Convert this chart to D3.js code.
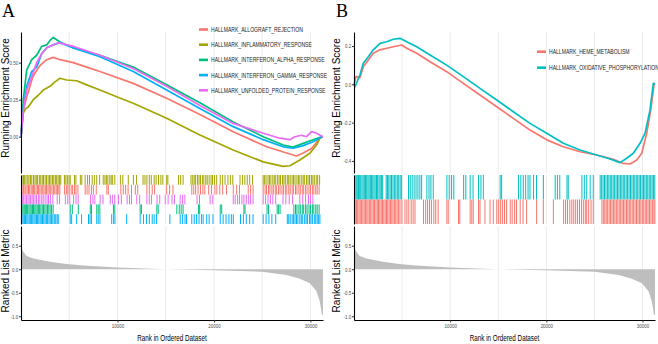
<!DOCTYPE html>
<html>
<head>
<meta charset="utf-8">
<script src="https://cdn.jsdelivr.net/npm/d3@7"></script>
<style>
  body { margin: 0; background: #fff; }
  svg { display: block; }
</style>
</head>
<body>
<svg id="chart"></svg>
<script>
const w = 658;
const h = 344;
const nGenes = 31300;

const gridRanks = [5000, 10000, 15000, 20000, 25000, 30000];
const rankTicks = [10000, 20000, 30000];

// ---- panel A ----
const setsA = ['HALLMARK_ALLOGRAFT_REJECTION', 'HALLMARK_INFLAMMATORY_RESPONSE',
  'HALLMARK_INTERFERON_ALPHA_RESPONSE', 'HALLMARK_INTERFERON_GAMMA_RESPONSE',
  'HALLMARK_UNFOLDED_PROTEIN_RESPONSE'];
const colorsA = ['#F8766D', '#A3A500', '#00BF7D', '#00B0F6', '#E76BF3'];
const rowOrderA = [1, 0, 4, 2, 3]; // top to bottom in the hit strip
const esTicksA = [0, 0.25, 0.5];

const esAllograft = [[0,0],[238,0.18],[600,0.27],[932,0.34],[1200,0.40],[1450,0.43],[1968,0.48],[2300,0.50],[2663,0.52],[3346,0.536],[4040,0.52],[5418,0.50],[6807,0.47],[8184,0.44],[11634,0.36],[15095,0.26],[18544,0.15],[21994,0.034],[25455,-0.068],[27528,-0.11],[28562,-0.13],[29246,-0.11],[30117,-0.08],[30976,-0.01],[31300,0]];
const esInflammatory = [[0,0],[238,0.16],[500,0.19],[756,0.20],[1274,0.25],[1792,0.28],[2310,0.315],[3004,0.34],[3522,0.37],[4040,0.395],[4735,0.383],[5771,0.378],[6807,0.35],[8184,0.315],[9914,0.27],[11634,0.226],[15095,0.124],[18544,0.011],[21994,-0.09],[25102,-0.17],[27174,-0.20],[27868,-0.196],[28904,-0.157],[29940,-0.112],[30633,-0.056],[30976,-0.01],[31300,0]];
const esIfnAlpha = [[0,0],[238,0.25],[590,0.45],[1108,0.52],[1627,0.55],[2145,0.61],[2663,0.62],[3004,0.65],[3346,0.67],[4040,0.64],[5418,0.60],[8184,0.55],[11634,0.47],[15095,0.35],[18544,0.23],[21994,0.10],[25102,0.0],[27174,-0.056],[28210,-0.07],[29246,-0.045],[30282,-0.02],[31153,0],[31300,0]];
const esIfnGamma = [[0,0],[238,0.20],[590,0.34],[1108,0.44],[1627,0.47],[2145,0.56],[2663,0.60],[3346,0.62],[4040,0.635],[5418,0.60],[8184,0.54],[11634,0.44],[15095,0.315],[18544,0.19],[21994,0.068],[25102,-0.02],[27174,-0.068],[28210,-0.078],[29246,-0.06],[30282,-0.034],[31153,0],[31300,0]];
const esUpr = [[0,0],[238,0.18],[590,0.315],[1108,0.405],[1627,0.50],[2145,0.56],[2663,0.60],[3346,0.62],[3864,0.635],[5418,0.61],[8184,0.55],[11634,0.46],[15095,0.34],[18544,0.21],[21994,0.09],[25102,0.023],[26832,-0.01],[27868,-0.02],[28386,0.0],[29081,0.01],[29595,0.0],[30117,0.034],[30633,0.023],[31257,0.0],[31300,0]];

const hitsAllograft = [120,250,400,510,640,780,900,1050,1170,1300,1420,1560,1700,1820,1960,2100,2250,2380,2520,2650,2800,2930,3080,3210,3360,3500,3650,3780,3920,4030,
  4520,4700,4850,5000,5200,5350,5550,5700,5900,6650,6850,7050,7300,7500,7800,8900,9050,
  10350,10600,10850,11100,11450,11850,12100,13050,13300,13600,13850,15100,15400,15750,
  17700,17900,18100,18350,18600,18850,19050,19450,19750,20100,20300,20600,20900,21300,22000,22350,22650,23550,23800,24050,
  25100,25300,25450,25650,25800,26000,26150,26350,26500,26700,26850,27050,27200,27400,27550,27750,27900,28100,28250,28450,28600,28800,28950,29150,29300,29500,29650,29850,30000,30200,30350,30550,30700,30900];
const hitsInflammatory = [110,260,380,520,700,830,990,1120,1300,1450,1580,1720,1900,2050,2200,2330,2500,2640,2810,2950,3100,3260,3400,3560,3700,3850,4000,4120,
  4500,4650,4800,4980,5100,5550,5690,6150,6300,6650,6900,7100,7380,7600,7850,8150,
  8520,8700,8850,9000,9200,9350,9500,9720,10300,10550,11120,11650,11980,
  12650,12850,13050,13300,13500,13800,14000,14250,14500,14700,15100,15220,16320,16550,16800,
  17620,17800,17950,18100,18300,18450,18600,18800,18950,19150,19300,19500,19700,19850,20050,20280,
  20650,20900,21150,21450,21700,21950,22700,22950,23200,23450,23700,24000,
  25100,25250,25400,25600,25750,25900,26100,26250,26400,26600,26750,26900,27100,27250,27400,27600,27750,27900,28100,28250,28400,28600,28750,28900,29100,29250,29400,29600,29750,29900,30100,30250,30400,30600,30750,30950];
const hitsIfnAlpha = [110,220,340,450,580,690,820,940,1060,1190,1300,1430,1550,1680,1800,1930,2060,2200,2330,2470,2600,2750,2880,3020,3170,3330,
  5100,5320,5940,7180,7300,7850,8000,8170,9580,9720,12350,12480,14080,14220,16150,16400,16600,16800,18400,18520,
  20650,20800,23100,23220,25500,25650,26550,26700,26850,
  28280,28450,28600,28800,28950,29150,29300,29500,29650,29850,30000,30200,30350,30550,30700,30900];
const hitsIfnGamma = [105,230,350,470,600,720,850,970,1100,1220,1350,1470,1600,1720,1850,1980,2100,2230,2360,2500,2630,2760,2900,3030,3170,3300,3450,3600,3750,3860,
  5100,5250,5770,6280,7000,7150,7300,7850,8000,8180,9400,9600,9740,10950,
  12350,12700,13000,13300,13600,13800,14050,15430,16500,16750,17000,17150,17700,17950,18200,18450,18700,18880,19250,19500,19900,
  20650,20950,21250,21550,21800,22000,22750,23050,23350,23700,24050,25100,25400,25700,26000,26400,
  27600,27750,27900,28100,28250,28400,28550,28700,28900,29050,29200,29400,29550,29700,29900,30050,30200,30400,30550,30700,30850,30980];
const hitsUpr = [130,280,420,560,720,850,1000,1150,1280,1450,1600,1800,1950,2150,2300,2500,2700,2850,3050,3300,
  3750,4000,4600,4850,5050,5450,5700,5920,7200,7450,7650,8200,8500,9250,9500,9720,10100,10400,11000,11250,11450,
  12000,12300,13050,13300,13520,14100,14380,14950,15250,15650,15900,16500,16750,16980,18250,18500,19600,19880,
  22000,22200,22450,22650,22900,23100,23350,23600,23800,24050,25100,25350,25600,25850,26100,26400,
  27150,27450,27800,28150,28900,29200,29500,29800,30000,30250];

// ---- panel B ----
const setsB = ['HALLMARK_HEME_METABOLISM', 'HALLMARK_OXIDATIVE_PHOSPHORYLATION'];
const colorsB = ['#F8766D', '#00BFC4'];
const rowOrderB = [1, 0];
const esTicksB = [-0.4, -0.2, 0, 0.2];

const esHeme = [[0,0],[208,0.04],[624,0.035],[967,0.092],[1487,0.127],[2007,0.162],[2704,0.18],[3401,0.188],[4087,0.196],[4961,0.205],[5481,0.188],[6521,0.162],[7904,0.118],[9641,0.066],[11367,0.005],[13104,-0.056],[14841,-0.117],[16567,-0.178],[18304,-0.239],[20041,-0.29],[21767,-0.326],[23504,-0.352],[25241,-0.369],[26967,-0.392],[28007,-0.413],[28704,-0.416],[29397,-0.395],[29921,-0.36],[30437,-0.256],[30857,-0.134],[31200,0],[31300,0]];
const esOxphos = [[0,0],[104,-0.012],[624,0.05],[967,0.11],[1487,0.144],[2007,0.18],[2704,0.214],[3401,0.222],[4087,0.235],[4784,0.24],[5481,0.222],[6521,0.196],[7904,0.153],[9641,0.10],[11367,0.04],[13104,-0.021],[14841,-0.082],[16567,-0.143],[18304,-0.204],[20041,-0.256],[21767,-0.308],[23504,-0.343],[25241,-0.369],[26624,-0.39],[27664,-0.409],[28357,-0.386],[29047,-0.36],[29744,-0.308],[30264,-0.256],[30784,-0.134],[31127,0.005],[31300,0]];

const hitsHeme = [120,250,380,520,650,790,920,1060,1190,1330,1460,1600,1740,1870,2010,2140,2280,2420,2550,2690,2830,2960,3100,3240,3380,3510,3650,3790,3930,4060,4200,4340,4480,4620,4780,
  4980,5300,5500,5700,5950,6150,6340,7230,7450,7650,7850,8050,8300,8500,8750,9660,9800,10870,11000,
  12080,12250,12400,12950,13100,13620,14150,14480,14850,15050,15250,15450,15650,15870,16250,16450,16700,16900,17280,17580,17950,
  18990,19690,20730,21800,22000,22200,22440,22650,22850,23050,23250,23450,23650,23850,24050,24200,24400,24650,24880,
  25780,25930,26080,26230,26380,26530,26680,26830,26980,27130,27280,27430,27580,27730,27880,28030,28180,28330,28480,28630,28780,28930,29080,29230,29380,29530,29680,29830,29980,30130,30280,30430,30580,30730,30880,31030,31180,31290];
const hitsOxphos = [110,230,340,470,590,700,830,950,1070,1200,1320,1450,1570,1700,1830,1950,2080,2200,2340,2460,2600,2720,2850,2980,
  3350,3480,3620,3760,3900,4050,4200,4350,4500,4650,4800,4950,5670,5850,6050,6250,6450,6650,6850,7030,7580,7800,8000,8240,
  9660,9900,10150,10380,11400,11630,12080,12380,12950,13200,13450,15200,15350,17100,17350,17600,17850,18100,18300,18670,18980,19690,
  20920,21150,21400,22150,22280,23700,23950,24200,24560,24880,
  25600,25750,25900,26050,26200,26350,26500,26650,26800,26950,27100,27250,27400,27550,27700,27850,28000,28150,28300,28450,28600,28750,28900,29050,29200,29350,29500,29650,29800,29950,30100,30250,30400,30550,30700,30850,31000,31150,31280];

// ranked list metric (same ranked list for both panels)
const metricRanks = [1, 100, 240, 590, 1280, 3000, 4730, 6460, 9980, 14990, 19960, 25000, 27520, 28900, 29940, 30630, 30980, 31190, 31300];
const metricValues = [0.50, 0.42, 0.37, 0.28, 0.23, 0.16, 0.11, 0.08, 0.035, 0.0, -0.02, -0.055, -0.12, -0.2, -0.3, -0.47, -0.69, -0.97, -0.97];
const metricTicks = [-1, -0.5, 0, 0.5];

const sans = '"Liberation Sans", Arial, sans-serif';

const svg = d3.select('#chart')
  .attr('width', w)
  .attr('height', h);

// the original's horizontal text is condensed: squeeze around each text's own x
function squeeze(sel, sx) {
  sel.attr('transform', function () {
    const x = +this.getAttribute('x') || 0;
    return `translate(${x * (1 - sx)},0) scale(${sx},1)`;
  });
}

function styleAxis(g) {
  g.attr('font-family', sans).attr('font-size', 6.2);
  g.select('.domain').attr('stroke', '#000').attr('stroke-width', 1.1);
  g.selectAll('.tick line').attr('stroke', '#333');
  g.selectAll('.tick text').attr('fill', '#4d4d4d').call(squeeze, 0.72);
}

function drawPanel(p) {
  const g = svg.append('g');

  const x = d3.scaleLinear().domain([0, nGenes]).range([p.left, p.right]);
  const yEs = d3.scaleLinear().domain(p.esDomain).range([173, 32]);
  const yRow = d3.scaleBand().domain(p.rowOrder).range([175, 224]);
  const yMetric = d3.scaleLinear().domain([-1.08, 0.92]).range([320, 226]);

  // vertical grid lines in each of the three strips
  [[32, 173], [175, 224], [226, 320]].forEach(([a, b]) => {
    g.append('g').selectAll('line')
      .data(gridRanks)
      .enter()
      .append('line')
      .attr('x1', d => x(d)).attr('x2', d => x(d))
      .attr('y1', a).attr('y2', b)
      .attr('stroke', '#ebebeb')
      .attr('stroke-width', 1);
  });

  // running enrichment score
  const line = d3.line().x(d => x(d[0])).y(d => yEs(d[1]));
  g.append('g').selectAll('path')
    .data(p.es)
    .enter()
    .append('path')
    .attr('d', line)
    .attr('fill', 'none')
    .attr('stroke', (d, i) => p.colors[i])
    .attr('stroke-width', 1.7)
    .attr('stroke-linejoin', 'round');

  g.append('g')
    .attr('transform', `translate(${p.left},0)`)
    .call(d3.axisLeft(yEs).tickValues(p.esTicks).tickSize(2).tickPadding(0.8).tickSizeOuter(0).tickFormat(p.esFmt))
    .call(styleAxis);

  // legend
  const leg = g.append('g').selectAll('g')
    .data(p.sets)
    .enter()
    .append('g')
    .attr('transform', (d, i) => `translate(${p.legX},${p.legY[i]})`);
  leg.append('line')
    .attr('x1', 0).attr('x2', 9)
    .attr('stroke', (d, i) => p.colors[i])
    .attr('stroke-width', 2.6);
  leg.append('text')
    .attr('x', 12)
    .attr('dy', '0.35em')
    .attr('font-family', sans)
    .attr('font-size', 7)
    .attr('fill', '#1a1a1a')
    .text(d => d)
    .call(squeeze, 0.725);

  // hit strip
  p.rowOrder.forEach(k => {
    g.append('g').selectAll('line')
      .data(p.hits[k])
      .enter()
      .append('line')
      .attr('x1', d => x(d)).attr('x2', d => x(d))
      .attr('y1', yRow(k)).attr('y2', yRow(k) + yRow.bandwidth())
      .attr('stroke', p.colors[k])
      .attr('stroke-width', 1);
  });
  g.append('g')
    .attr('transform', `translate(${p.left},0)`)
    .call(d3.axisLeft(yRow).tickSize(0).tickSizeOuter(0).tickFormat(''))
    .call(styleAxis);

  // ranked list metric
  const area = d3.area()
    .x((d, i) => x(metricRanks[i]))
    .y0(yMetric(0))
    .y1(d => yMetric(d));
  g.append('path')
    .datum(metricValues)
    .attr('d', area)
    .attr('fill', '#bebebe');

  g.append('g')
    .attr('transform', `translate(${p.left},0)`)
    .call(d3.axisLeft(yMetric).tickValues(metricTicks).tickSize(2).tickPadding(0.8).tickSizeOuter(0).tickFormat(d => d.toFixed(1)))
    .call(styleAxis);
  g.append('g')
    .attr('transform', `translate(0,320)`)
    .call(d3.axisBottom(x).tickValues(rankTicks).tickSize(2.5).tickPadding(1.5).tickSizeOuter(0).tickFormat(d => d))
    .call(styleAxis);

  // titles
  g.append('text')
    .attr('x', (p.left + p.right) / 2).attr('y', 341)
    .attr('text-anchor', 'middle')
    .attr('font-family', sans).attr('font-size', 9)
    .attr('fill', '#000')
    .text('Rank in Ordered Dataset')
    .call(squeeze, 0.7);
  g.append('text')
    .attr('transform', `translate(${p.titleX},98) rotate(-90)`)
    .attr('text-anchor', 'middle')
    .attr('font-family', sans).attr('font-size', 10)
    .attr('fill', '#000')
    .text('Running Enrichment Score');
  g.append('text')
    .attr('transform', `translate(${p.titleX},271) rotate(-90)`)
    .attr('text-anchor', 'middle')
    .attr('font-family', sans).attr('font-size', 10)
    .attr('fill', '#000')
    .text('Ranked List Metric');
  g.append('text')
    .attr('x', p.tagX).attr('y', 17)
    .attr('font-family', '"Liberation Serif", "DejaVu Serif", serif')
    .attr('font-size', 18)
    .attr('fill', '#000')
    .text(p.tag);
}

drawPanel({
  tag: 'A', tagX: 2, titleX: 9,
  left: 21, right: 323,
  esDomain: [-0.245, 0.707], esTicks: esTicksA, esFmt: d => d.toFixed(2),
  sets: setsA, colors: colorsA, rowOrder: rowOrderA,
  es: [esAllograft, esInflammatory, esIfnAlpha, esIfnGamma, esUpr],
  hits: [hitsAllograft, hitsInflammatory, hitsIfnAlpha, hitsIfnGamma, hitsUpr],
  legX: 199, legY: [29.5, 44.7, 59.9, 75.1, 90.3]
});

drawPanel({
  tag: 'B', tagX: 336, titleX: 340,
  left: 354, right: 655,
  esDomain: [-0.463, 0.273], esTicks: esTicksB, esFmt: d => d.toFixed(1),
  sets: setsB, colors: colorsB, rowOrder: rowOrderB,
  es: [esHeme, esOxphos],
  hits: [hitsHeme, hitsOxphos],
  legX: 537, legY: [51.7, 67.7]
});
</script>
</body>
</html>
